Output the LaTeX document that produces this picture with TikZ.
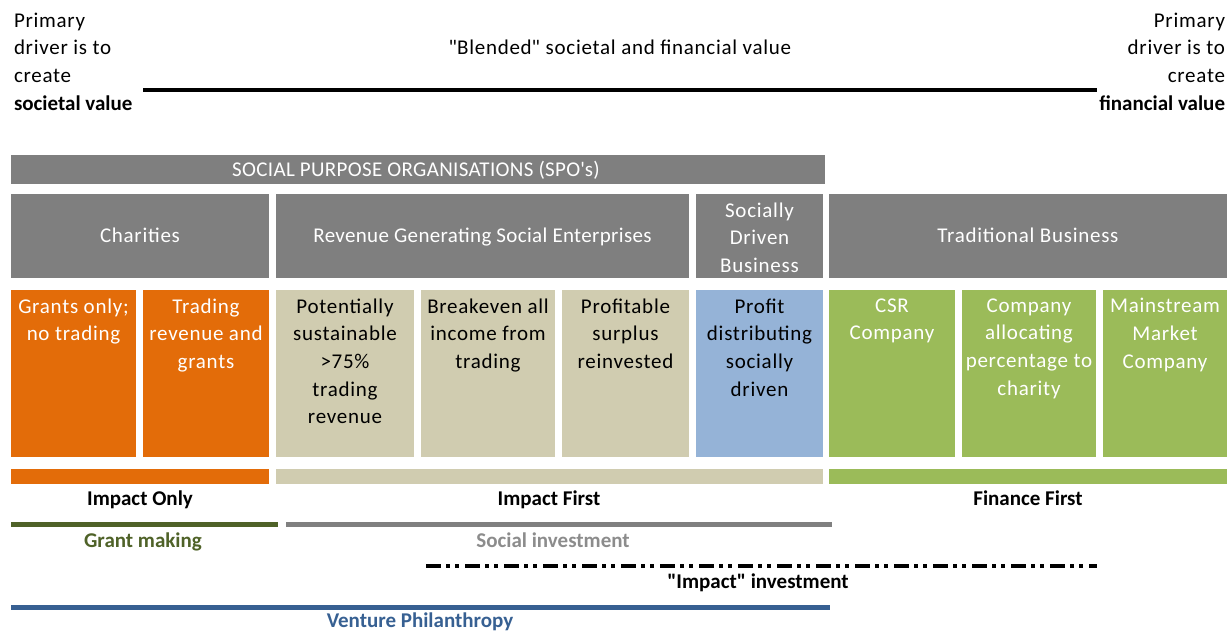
\documentclass[tikz,border=0pt]{standalone}
\usepackage{fontspec}
\setmainfont{Carlito}[UprightFeatures={LetterSpace=3.5}]
\newfontfamily\tightfont{Carlito}[LetterSpace=1.6]
\definecolor{hdrgray}{HTML}{7F7F7F}
\definecolor{orangecell}{HTML}{E36C09}
\definecolor{tancell}{HTML}{D0CCB0}
\definecolor{bluecell}{HTML}{95B3D7}
\definecolor{greencell}{HTML}{9BBB59}
\definecolor{olive}{HTML}{4F6228}
\definecolor{socgray}{HTML}{808080}
\definecolor{socgraytext}{HTML}{8C8C8C}
\definecolor{venture}{HTML}{376092}
\begin{document}
\begin{tikzpicture}[x=1pt,y=-1pt,
  txt/.style={font=\fontsize{21}{27.7}\selectfont, inner sep=0pt, outer sep=0pt},
  tighttxt/.style={txt, font=\tightfont\fontsize{21}{27.7}\selectfont},
  cell/.style={rectangle, inner sep=0pt, outer sep=0pt, draw=none, fill=#1},
  celltext/.style={txt, align=center, anchor=north, text=#1, execute at begin node=\strut},
  bold/.style={txt, font=\fontsize{21}{27.7}\selectfont\bfseries, anchor=base}
]
\useasboundingbox (0,0) rectangle (1227,631);

% --- value spectrum across the top ---
\node[txt, align=left, anchor=north west, execute at begin node=\strut] (leftdrv) at (14,12.6)
  {Primary\\driver is to\\create\\\textbf{societal value}};
\node[txt, align=right, anchor=north east, execute at begin node=\strut] (rightdrv) at (1225,12.6)
  {Primary\\driver is to\\create\\\textbf{financial value}};
\node[txt, anchor=base] (blended) at (620,55) {\textquotedbl Blended\textquotedbl{} societal and financial value};
\coordinate (specL) at (143,90);
\coordinate (specR) at (1097,90);
\draw[line width=4pt] (specL) -- (specR);

% --- header bars ---
\node[cell=hdrgray, minimum width=814pt, minimum height=29pt] (spo) at (418,169.5) {};
\node[tighttxt, text=white, anchor=base] (spotext) at (416,177) {SOCIAL PURPOSE ORGANISATIONS (SPO\textquotesingle s)};

\node[cell=hdrgray, minimum width=258pt, minimum height=84pt] (charities) at (140,236) {};
\node[txt, text=white, anchor=base] at (140,243) {Charities};
\node[cell=hdrgray, minimum width=413pt, minimum height=84pt] (rgse) at (482.5,236) {};
\node[tighttxt, text=white, anchor=base] at (482.5,243) {Revenue Generating Social Enterprises};
\node[cell=hdrgray, minimum width=127pt, minimum height=84pt] (sdb) at (759.5,236) {};
\node[txt, text=white, align=center] at ([yshift=-1.5pt]sdb.center) {Socially\\Driven\\Business};
\node[cell=hdrgray, minimum width=398pt, minimum height=84pt] (trad) at (1028,236) {};
\node[txt, text=white, anchor=base] at (1028,243) {Traditional Business};

% --- organisation types ---
\node[cell=orangecell, minimum width=125pt, minimum height=167pt] (grants) at (73.5,373.5) {};
\node[celltext=white] at ([yshift=-8.5pt]grants.north) {Grants only;\\no trading};
\node[cell=orangecell, minimum width=126pt, minimum height=167pt] (tradgr) at (206,373.5) {};
\node[celltext=white] at ([yshift=-8.5pt]tradgr.north) {Trading\\revenue and\\grants};
\node[cell=tancell, minimum width=138pt, minimum height=167pt] (potsus) at (345,373.5) {};
\node[celltext=black] at ([yshift=-8.5pt]potsus.north) {Potentially\\sustainable\\>75\%\\trading\\revenue};
\node[cell=tancell, minimum width=134pt, minimum height=167pt] (breakeven) at (488,373.5) {};
\node[celltext=black] at ([yshift=-8.5pt]breakeven.north) {Breakeven all\\income from\\trading};
\node[cell=tancell, minimum width=127pt, minimum height=167pt] (surplus) at (625.5,373.5) {};
\node[celltext=black] at ([yshift=-8.5pt]surplus.north) {Profitable\\surplus\\reinvested};
\node[cell=bluecell, minimum width=127pt, minimum height=167pt] (profit) at (759.5,373.5) {};
\node[celltext=black] at ([yshift=-8.5pt]profit.north) {Profit\\distributing\\socially\\driven};
\node[cell=greencell, minimum width=126pt, minimum height=167pt] (csr) at (892,373.5) {};
\node[celltext=white] at ([yshift=-8.5pt]csr.north) {CSR\\Company};
\node[cell=greencell, minimum width=134pt, minimum height=167pt] (alloc) at (1029,373.5) {};
\node[celltext=white] at ([yshift=-8.5pt]alloc.north) {Company\\allocating\\percentage to\\charity};
\node[cell=greencell, minimum width=124pt, minimum height=167pt] (mainstream) at (1165,373.5) {};
\node[celltext=white] at ([yshift=-8.5pt]mainstream.north) {Mainstream\\Market\\Company};

% --- impact bands ---
\node[cell=orangecell, minimum width=258pt, minimum height=15pt] (onlybar) at (140,476.5) {};
\node[cell=tancell, minimum width=547pt, minimum height=15pt] (firstbar) at (549.5,476.5) {};
\node[cell=greencell, minimum width=398pt, minimum height=15pt] (finbar) at (1028,476.5) {};
\node[bold] (onlylbl) at (140,505) {Impact Only};
\node[bold] (firstlbl) at (549,505) {Impact First};
\node[bold] (finlbl) at (1028,505) {Finance First};

% --- funding approaches ---
\coordinate (grantL) at (11,524.5);
\coordinate (grantR) at (278,524.5);
\draw[olive, line width=4.5pt] (grantL) -- (grantR);
\node[bold, text=olive] (grantlbl) at (143,547) {Grant making};

\coordinate (socL) at (286,524.5);
\coordinate (socR) at (832,524.5);
\draw[socgray, line width=4.5pt] (socL) -- (socR);
\node[bold, text=socgraytext] (soclbl) at (553,547) {Social investment};

\coordinate (impL) at (426,566);
\coordinate (impR) at (1097,566);
\draw[line width=3.5pt, dash pattern=on 15pt off 5pt on 4pt off 5pt on 4pt off 6pt] (impL) -- (impR);
\node[bold] (implbl) at (758,588) {\textquotedbl Impact\textquotedbl{} investment};

\coordinate (ventL) at (11,607);
\coordinate (ventR) at (830,607);
\draw[venture, line width=5pt] (ventL) -- (ventR);
\node[bold, text=venture] (ventlbl) at (420,627.5) {Venture Philanthropy};
\end{tikzpicture}
\end{document}
